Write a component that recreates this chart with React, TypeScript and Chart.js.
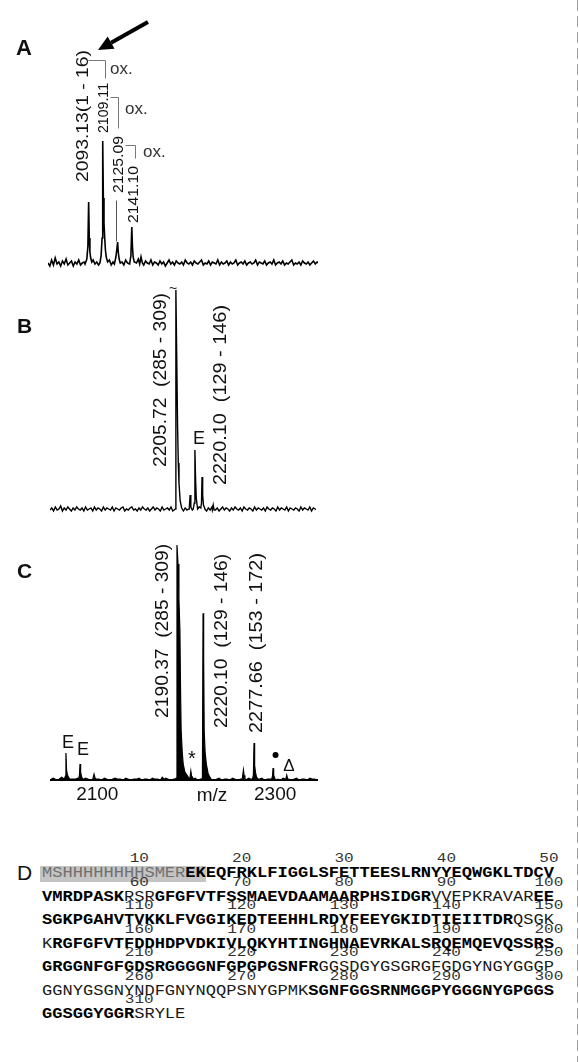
import React, { useEffect, useRef } from "react";
import { Chart, registerables } from "chart.js";
Chart.register(...registerables);

const SANS = '"Liberation Sans", Arial, Helvetica, sans-serif';
const MONO = '"Liberation Mono", "Courier New", monospace';

// ---------- spectra data (m/z, arbitrary intensity units) ----------
const MZ_MIN = 2048;
const MZ_MAX = 2347;
const TICKS_C = [2100, 2300];

const NOISE_STEP_AB = 2;
const NOISE_A = [
  5, 2, 8, 3, 10, 4, 6, 2, 7, 4, 9, 3, 5, 7, 2, 6, 4, 8, 3, 5,
  6, 3, 7, 2, 5, 8, 4, 6, 3, 7, 5, 2, 6, 4, 8, 3, 6, 5, 2, 7,
  4, 6, 3, 8, 5, 4, 7, 3, 6, 5, 9, 4, 6, 3, 7, 5, 4, 8, 3, 6,
  5, 3, 7, 4, 6, 2, 5, 8, 4, 6, 3, 7, 5, 4, 6, 3, 8, 5, 4, 6,
  3, 7, 5, 4, 6, 8, 3, 5, 4, 7, 3, 6, 5, 4, 8, 3, 6, 4, 5, 7,
  3, 6, 4, 5, 8, 3, 5, 6, 4, 7, 3, 5, 6, 4, 5, 8, 3, 6, 5, 4,
  7, 3, 5, 6, 4, 8, 3, 5, 6, 4, 7, 3, 5, 4, 6, 8, 3, 5, 4, 6,
  3, 7, 5, 4, 6, 3, 5, 7, 4, 6, 5,
];
const NOISE_B = [
  3, 5, 2, 6, 3, 4, 7, 2, 5, 3, 6, 4, 2, 5, 3, 6, 4, 3, 5, 2,
  6, 3, 4, 5, 2, 6, 3, 5, 4, 2, 6, 3, 5, 4, 3, 6, 2, 5, 4, 3,
  5, 6, 2, 4, 3, 5, 6, 3, 4, 2, 5, 3, 6, 4, 3, 5, 2, 4, 6, 3,
  5, 4, 2, 6, 3, 4, 5, 3, 6, 2, 4, 5, 3, 6, 4, 2, 5, 3, 4, 6,
  3, 5, 2, 4, 6, 3, 5, 4, 2, 5, 3, 6, 4, 3, 5, 2, 4, 6, 3, 5,
  4, 2, 5, 3, 6, 4, 3, 5, 2, 6, 4, 3, 5, 4, 2, 6, 3, 5, 4, 3,
  5, 2, 6, 4, 3, 5, 4, 2, 6, 3, 5, 4, 3, 6, 2, 5, 4, 3, 5, 4,
  2, 6, 3, 5, 4, 3, 6, 2, 5, 4, 3,
];
const NOISE_STEP_C = 3;
const NOISE_C = [
  1, 2, 0, 1, 3, 1, 0, 2, 1, 1, 2, 0, 1, 2, 1, 0, 3, 1, 1, 0,
  2, 1, 0, 1, 2, 1, 1, 0, 2, 1, 0, 1, 1, 2, 0, 1, 1, 0, 2, 1,
  1, 0, 1, 2, 1, 0, 1, 1, 0, 2, 1, 0, 1, 1, 2, 0, 1, 0, 2, 1,
  1, 0, 1, 2, 0, 1, 1, 0, 2, 1, 0, 1, 1, 0, 2, 1, 1, 0, 1, 2,
  0, 1, 1, 2, 0, 1, 0, 2, 1, 1, 0, 1, 2, 0, 1, 1, 0, 2, 1, 1,
];

const PEAKS_A = [
  [[2089, 4], [2091, 9], [2092.2, 22], [2093, 66], [2093.7, 30], [2094.4, 16], [2095.3, 10], [2096.5, 6]],
  [[2105.5, 5], [2106.8, 12], [2107.9, 30], [2108.6, 127], [2109.3, 70], [2110, 45], [2110.8, 30], [2111.6, 18], [2112.5, 11], [2114, 6]],
  [[2121.5, 4], [2123.2, 11], [2124.4, 20], [2125.1, 26], [2125.8, 16], [2126.8, 9], [2128, 5]],
  [[2138.5, 5], [2139.8, 12], [2140.8, 41], [2141.5, 22], [2142.3, 11], [2143.5, 6]],
  [[2149.5, 4], [2151, 11], [2152.5, 5]],
];
const PEAKS_B = [
  [[2187.5, 3], [2188.8, 4], [2189.5, 223], [2190.4, 160], [2191.4, 87], [2192.2, 50], [2193, 30], [2194.3, 12], [2196, 5]],
  [[2204.5, 4], [2205.5, 18], [2206.3, 6]],
  [[2209, 4], [2210.2, 10], [2210.9, 63], [2211.6, 35], [2212.4, 15], [2213.5, 7]],
  [[2217.5, 5], [2218.3, 10], [2218.9, 36], [2219.6, 18], [2220.5, 8], [2221.8, 5]],
  [[2230.5, 3], [2231.5, 8], [2232.5, 3]],
];
const PEAKS_C = [
  [[2063, 1], [2064.2, 4], [2064.8, 27], [2065.5, 10], [2066.3, 6], [2067.5, 3], [2069, 1]],
  [[2079, 1], [2080, 5], [2080.6, 16], [2081.3, 8], [2082.2, 4], [2083.5, 1]],
  [[2095, 1], [2096.4, 6], [2097.5, 2]],
  [[2171, 0], [2173, 3], [2175, 1]],
  [[2187, 1], [2188.8, 2], [2189.6, 234], [2190.8, 215], [2191.8, 180], [2192.9, 149], [2193.6, 90], [2194.3, 49], [2195.5, 28], [2196.6, 16], [2198.5, 8], [2201.5, 4], [2203, 2]],
  [[2204.2, 2], [2205.2, 9], [2206, 4], [2207, 3], [2208, 1]],
  [[2217, 1], [2218.2, 2], [2218.9, 166], [2219.6, 120], [2220.2, 49], [2221.2, 28], [2222.6, 16], [2224.5, 7], [2226.5, 3]],
  [[2263, 1], [2264.3, 10], [2265, 5], [2266, 2]],
  [[2274.5, 1], [2275.5, 5], [2276.2, 37], [2276.9, 15], [2277.8, 8], [2279, 3], [2280.5, 1]],
  [[2296, 1], [2297, 4], [2297.6, 12], [2298.3, 5], [2299.5, 2]],
  [[2312, 1], [2313, 5], [2314, 1]],
];

// ---------- sequence data ----------
const SEQUENCE_ROWS = [
  "MSHHHHHHHHSMEREKEQFRKLFIGGLSFETTEESLRNYYEQWGKLTDCV",
  "VMRDPASKRSRGFGFVTFSSMAEVDAAMAARPHSIDGRVVEPKRAVAREE",
  "SGKPGAHVTVKKLFVGGIKEDTEEHHLRDYFEEYGKIDTIEIITDRQSGK",
  "KRGFGFVTFDDHDPVDKIVLQKYHTINGHNAEVRKALSRQEMQEVQSSRS",
  "GRGGNFGFGDSRGGGGNFGPGPGSNFRGGSDGYGSGRGFGDGYNGYGGGP",
  "GGNYGSGNYNDFGNYNQQPSNYGPMKSGNFGGSRNMGGPYGGGNYGPGGS",
  "GGSGGYGGRSRYLE",
];
const BOLD_RANGES = [[15, 58], [62, 88], [99, 146], [152, 227], [277, 309]];
const BOX_RANGE = [1, 16];
const NUMBER_STEP = 10;

// ---------- helpers ----------
function buildTrace(noise: number[], step: number, peaks: number[][][]) {
  const pts: { x: number; y: number }[] = [];
  noise.forEach((v, i) => {
    const x = MZ_MIN + i * step;
    if (!peaks.some((p) => x >= p[0][0] && x <= p[p.length - 1][0])) pts.push({ x, y: v });
  });
  peaks.forEach((p) => p.forEach(([x, y]) => pts.push({ x, y })));
  pts.sort((a, b) => a.x - b.x);
  return pts;
}

function annotPlugin(items: any[]) {
  return {
    id: "annot",
    afterDatasetsDraw(chart: any) {
      const ctx = chart.ctx;
      const xs = chart.scales.x;
      const ys = chart.scales.y;
      const X = (v: number) => xs.getPixelForValue(v);
      const Y = (v: number) => ys.getPixelForValue(v);
      ctx.save();
      for (const a of items) {
        if (a.kind === "vtext") {
          ctx.font = `${a.weight || 400} ${a.size}px ${SANS}`;
          const w = ctx.measureText(a.text).width;
          ctx.save();
          ctx.translate(X(a.mz), Y(a.y));
          ctx.rotate(-Math.PI / 2);
          ctx.scale(a.len / w, 1);
          ctx.fillStyle = a.color || "#111";
          ctx.textAlign = "left";
          ctx.textBaseline = "alphabetic";
          ctx.fillText(a.text, 0, 0.36 * a.size);
          ctx.restore();
        } else if (a.kind === "text" || a.kind === "ptext") {
          const px = a.kind === "text" ? X(a.mz) : a.px;
          const py = a.kind === "text" ? Y(a.y) : a.py;
          ctx.font = `${a.weight || 400} ${a.size}px ${SANS}`;
          ctx.fillStyle = a.color || "#111";
          ctx.textAlign = a.align || "center";
          ctx.textBaseline = "alphabetic";
          ctx.fillText(a.text, px, py + (a.dy != null ? a.dy : 0.36 * a.size));
        } else if (a.kind === "line") {
          ctx.beginPath();
          a.pts.forEach(([m, y]: number[], i: number) => {
            const px = Math.round(X(m)) + 0.5;
            const py = Math.round(Y(y)) + 0.5;
            if (i === 0) ctx.moveTo(px, py);
            else ctx.lineTo(px, py);
          });
          ctx.strokeStyle = a.color || "#777";
          ctx.lineWidth = a.width || 1;
          ctx.stroke();
        } else if (a.kind === "arrow") {
          const x1 = X(a.from[0]), y1 = Y(a.from[1]);
          const x2 = X(a.to[0]), y2 = Y(a.to[1]);
          const ang = Math.atan2(y2 - y1, x2 - x1);
          const hl = 15, hw = 7;
          const bx = x2 - hl * Math.cos(ang), by = y2 - hl * Math.sin(ang);
          ctx.beginPath();
          ctx.moveTo(x1, y1);
          ctx.lineTo(bx, by);
          ctx.strokeStyle = "#000";
          ctx.lineWidth = 4;
          ctx.stroke();
          ctx.beginPath();
          ctx.moveTo(x2, y2);
          ctx.lineTo(bx + hw * Math.sin(ang), by - hw * Math.cos(ang));
          ctx.lineTo(bx - hw * Math.sin(ang), by + hw * Math.cos(ang));
          ctx.closePath();
          ctx.fillStyle = "#000";
          ctx.fill();
        } else if (a.kind === "dot") {
          ctx.beginPath();
          ctx.arc(X(a.mz), Y(a.y), a.r, 0, Math.PI * 2);
          ctx.fillStyle = "#000";
          ctx.fill();
        }
      }
      ctx.restore();
    },
  };
}

function makeConfig(points: any[], yMax: number, padding: any, showAxis: boolean, lineW: number, fill: boolean, items: any[]) {
  return {
    type: "line",
    data: {
      datasets: [
        {
          data: points,
          borderColor: "#000",
          backgroundColor: "#000",
          borderWidth: lineW,
          pointRadius: 0,
          tension: 0,
          fill: fill ? "origin" : false,
        },
      ],
    },
    options: {
      animation: false,
      responsive: false,
      devicePixelRatio: 1,
      events: [],
      layout: { padding },
      plugins: { legend: { display: false }, tooltip: { enabled: false } },
      scales: {
        x: {
          type: "linear",
          min: MZ_MIN,
          max: MZ_MAX,
          display: showAxis,
          grid: { display: false, drawTicks: false },
          border: { display: true, color: "#000", width: 2 },
          ticks: {
            font: { family: SANS, size: 19 },
            color: "#111",
            padding: 3,
            autoSkip: false,
            maxRotation: 0,
            callback: (v: any) => String(v),
          },
          afterBuildTicks: (axis: any) => {
            axis.ticks = TICKS_C.map((v) => ({ value: v }));
          },
        },
        y: { display: false, min: 0, max: yMax },
      },
    },
    plugins: [annotPlugin(items)],
  };
}

// ---------- annotations (layout) ----------
const ANNOT_A = [
  { kind: "ptext", text: "A", px: 24, py: 47.5, size: 22, weight: 700 },
  { kind: "vtext", text: "2093.13(1 - 16)", mz: 2085.1, y: 86, size: 17, len: 132 },
  { kind: "vtext", text: "2109.11", mz: 2108.4, y: 135, size: 15, len: 50 },
  { kind: "vtext", text: "2125.09", mz: 2125.0, y: 75, size: 15, len: 57 },
  { kind: "vtext", text: "2141.10", mz: 2141.6, y: 45, size: 15, len: 57 },
  { kind: "line", pts: [[2123.3, 68], [2123.3, 27]], color: "#555" },
  { kind: "line", pts: [[2092.3, 208], [2111.1, 208], [2111.1, 190]] },
  { kind: "line", pts: [[2116.7, 171], [2125.5, 171], [2125.5, 140]] },
  { kind: "line", pts: [[2133.3, 123], [2144.3, 123], [2144.3, 110]] },
  { kind: "text", text: "ox.", mz: 2116.7, y: 198, size: 17, align: "left", color: "#333", dy: 4 },
  { kind: "text", text: "ox.", mz: 2133.3, y: 158, size: 17, align: "left", color: "#333", dy: 4 },
  { kind: "text", text: "ox.", mz: 2153.2, y: 115, size: 17, align: "left", color: "#333", dy: 4 },
  { kind: "arrow", from: [2158.7, 246], to: [2103.4, 218] },
];
const ANNOT_B = [
  { kind: "ptext", text: "B", px: 24.5, py: 45.5, size: 21, weight: 700 },
  { kind: "vtext", text: "2205.72  (285 - 309)", mz: 2171.6, y: 46, size: 18, len: 174 },
  { kind: "vtext", text: "2220.10  (129 - 146)", mz: 2238.0, y: 28, size: 18, len: 180 },
  { kind: "text", text: "E", mz: 2215.5, y: 75, size: 18 },
  { kind: "text", text: "~", mz: 2186.3, y: 223, size: 14, dy: 3 },
];
const ANNOT_C = [
  { kind: "ptext", text: "C", px: 24.5, py: 40.5, size: 21, weight: 700 },
  { kind: "vtext", text: "2190.37  (285 - 309)", mz: 2172.2, y: 62, size: 18, len: 174 },
  { kind: "vtext", text: "2220.10  (129 - 146)", mz: 2239.1, y: 52, size: 18, len: 174 },
  { kind: "vtext", text: "2277.66  (153 - 172)", mz: 2277.9, y: 47, size: 18, len: 180 },
  { kind: "text", text: "E", mz: 2067.1, y: 38, size: 18 },
  { kind: "text", text: "E", mz: 2084.0, y: 32, size: 18 },
  { kind: "text", text: "*", mz: 2206.5, y: 27, size: 20, dy: 12 },
  { kind: "dot", mz: 2300.4, y: 25, r: 3 },
  { kind: "text", text: "\u0394", mz: 2315.5, y: 15, size: 17 },
  { kind: "text", text: "m/z", mz: 2229, y: -14, size: 19 },
];

// ---------- sequence panel ----------
const X0 = 42;
const CW = 10.24;
const SEQ_FONT = 17.07;
const ROW_Y0 = 874;
const ROW_DY = 23.5;
const SQUASH = 0.82;

function isBold(n: number) {
  return BOLD_RANGES.some(([a, b]) => n >= a && n <= b);
}
function inBox(n: number) {
  return n >= BOX_RANGE[0] && n <= BOX_RANGE[1];
}

function SequencePanel() {
  const rows: any[] = [];
  const nums: any[] = [];
  let offset = 0;
  SEQUENCE_ROWS.forEach((row, r) => {
    const segs: { text: string; bold: boolean; box: boolean }[] = [];
    for (let i = 0; i < row.length; i++) {
      const n = offset + i + 1;
      const b = isBold(n);
      const bx = inBox(n);
      const last = segs[segs.length - 1];
      if (last && last.bold === b && last.box === bx) last.text += row[i];
      else segs.push({ text: row[i], bold: b, box: bx });
      if (n % NUMBER_STEP === 0) {
        nums.push(
          <span
            key={"n" + n}
            style={{
              position: "absolute",
              left: X0 + (i + 0.5) * CW,
              top: ROW_Y0 + r * ROW_DY - 15 - 8,
              height: 16,
              transform: `translateX(-50%) scaleY(${SQUASH})`,
              fontFamily: MONO,
              fontSize: 16,
              lineHeight: "16px",
              color: "#333",
              whiteSpace: "pre",
            }}
          >
            {String(n)}
          </span>
        );
      }
    }
    rows.push(
      <div
        key={"r" + r}
        style={{
          position: "absolute",
          left: X0,
          top: ROW_Y0 + r * ROW_DY - 10,
          height: 20,
          fontFamily: MONO,
          fontSize: SEQ_FONT,
          lineHeight: "20px",
          whiteSpace: "pre",
          transform: `scaleY(${SQUASH})`,
        }}
      >
        {segs.map((s, k) => (
          <span key={k} style={{ fontWeight: s.bold ? 700 : 400, color: s.bold ? "#000" : s.box ? "#707070" : "#1a1a1a" }}>
            {s.text}
          </span>
        ))}
      </div>
    );
    offset += row.length;
  });
  return (
    <>
      <div
        style={{
          position: "absolute",
          left: X0 - 2,
          top: ROW_Y0 - 8,
          width: (BOX_RANGE[1] - BOX_RANGE[0] + 1) * CW + 2,
          height: 16,
          background: "#c4c4c4",
        }}
      />
      <div
        style={{
          position: "absolute",
          left: 17,
          top: ROW_Y0 - 12,
          fontFamily: SANS,
          fontSize: 21,
          lineHeight: "21px",
          color: "#111",
        }}
      >
        D
      </div>
      {nums}
      {rows}
    </>
  );
}

export default function App() {
  const refA = useRef<HTMLCanvasElement>(null);
  const refB = useRef<HTMLCanvasElement>(null);
  const refC = useRef<HTMLCanvasElement>(null);

  useEffect(() => {
    const charts = [
      new Chart(
        refA.current as any,
        makeConfig(buildTrace(NOISE_A, NOISE_STEP_AB, PEAKS_A), 127, { left: 48, right: 261, top: 141, bottom: 12 }, false, 1.6, false, ANNOT_A) as any
      ),
      new Chart(
        refB.current as any,
        makeConfig(buildTrace(NOISE_B, NOISE_STEP_AB, PEAKS_B), 223, { left: 50, right: 263, top: 10, bottom: 17 }, false, 1.4, false, ANNOT_B) as any
      ),
      new Chart(
        refC.current as any,
        makeConfig(buildTrace(NOISE_C, NOISE_STEP_C, PEAKS_C), 239, { left: 51, right: 262, top: 10, bottom: 1 }, true, 1.2, true, ANNOT_C) as any
      ),
    ];
    return () => charts.forEach((c) => c.destroy());
  }, []);

  const cv = (top: number, h: number) => ({ position: "absolute" as const, left: 0, top, width: 579, height: h });

  return (
    <div style={{ position: "absolute", left: 0, top: 0, width: 579, height: 1062, background: "#fff", overflow: "hidden" }}>
      <canvas ref={refA} width={579} height={280} style={cv(0, 280)} />
      <canvas ref={refB} width={579} height={250} style={cv(280, 250)} />
      <canvas ref={refC} width={579} height={280} style={cv(530, 280)} />
      <SequencePanel />
      <div
        style={{
          position: "absolute",
          left: 577,
          top: 0,
          width: 1,
          height: 1062,
          background: "repeating-linear-gradient(to bottom, #a0a0a0 0px, #a0a0a0 11px, transparent 11px, transparent 16px)",
        }}
      />
    </div>
  );
}
